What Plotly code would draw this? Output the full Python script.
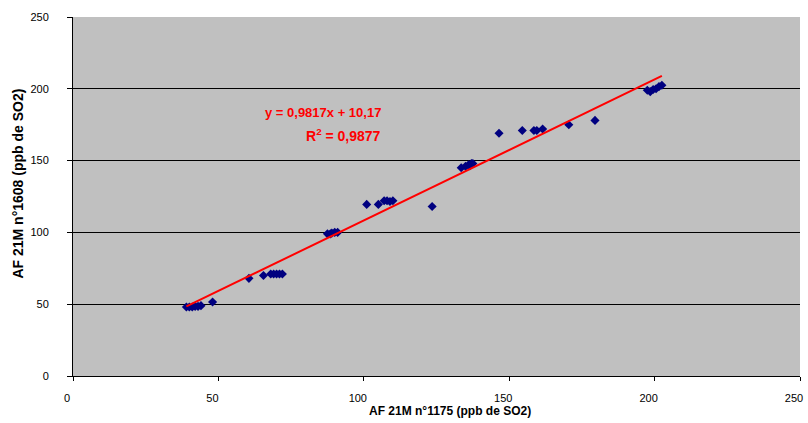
import plotly.graph_objects as go

x_vals = [39, 40, 41, 42, 43, 44, 48, 60.5, 65.5, 68, 69, 70, 71, 72,
          87.5, 88.5, 89, 90, 91, 101, 105, 107, 108, 109, 110, 123.5,
          133.5, 135, 136, 136.5, 137, 137.5, 146.5, 154.5, 158.5, 159.5,
          161.5, 170.5, 179.5, 197.5, 198.5, 199.5, 200.5, 201.5, 202.5]
y_vals = [48, 48, 48, 48.5, 48.5, 49, 51.5, 68, 70, 71, 71, 71, 71, 71,
          99, 99, 99.5, 100, 100, 119.5, 119.5, 122, 122, 121.5, 122, 118,
          145, 146, 147, 146.5, 148, 148, 169, 171, 171, 171,
          172, 175, 178, 199, 198, 199.5, 200, 201.5, 202.5]
slope = 0.9817
intercept = 10.17
tick_vals = [0, 50, 100, 150, 200, 250]
x_title = "AF 21M n°1175 (ppb de SO2)"
y_title = "AF 21M n°1608 (ppb de SO2)"
eq_text = "y = 0,9817x + 10,17"
r2_text = "R<sup>2</sup> = 0,9877"

x_line = [min(x_vals), max(x_vals)]
y_line = [slope * v + intercept for v in x_line]

FONT = "Arial, Liberation Sans"

fig = go.Figure()
fig.add_trace(go.Scatter(x=x_vals, y=y_vals, mode="markers",
                         marker=dict(symbol="diamond", size=7, color="#000080"),
                         showlegend=False))
fig.add_trace(go.Scatter(x=x_line, y=y_line, mode="lines",
                         line=dict(color="#FF0000", width=2), showlegend=False))

fig.add_annotation(x=106.5, y=183.5, xref="x", yref="y", text=eq_text,
                   showarrow=False, xanchor="right", yanchor="middle",
                   font=dict(family=FONT, size=13, color="#FF0000", weight="bold"))
fig.add_annotation(x=106.5, y=167.5, xref="x", yref="y", text=r2_text,
                   showarrow=False, xanchor="right", yanchor="middle",
                   font=dict(family=FONT, size=14, color="#FF0000", weight="bold"))

# axis titles placed as annotations for exact positioning
fig.add_annotation(x=0.519, y=0, xref="paper", yref="paper", text=x_title,
                   showarrow=False, xanchor="center", yanchor="middle", yshift=-35,
                   font=dict(family=FONT, size=12, color="#000000", weight="bold"))
fig.add_annotation(x=0, y=0.536, xref="paper", yref="paper", text=y_title,
                   showarrow=False, xanchor="center", yanchor="middle", xshift=-55,
                   textangle=-90,
                   font=dict(family=FONT, size=14, color="#000000", weight="bold"))

fig.update_layout(
    width=808, height=423,
    margin=dict(l=73, r=5, t=17, b=47),
    paper_bgcolor="white", plot_bgcolor="#C0C0C0",
    font=dict(family=FONT, size=11, color="#000000"),
)
fig.update_xaxes(range=[0, 250], tickvals=tick_vals, showgrid=False, zeroline=False,
                 showline=True, linecolor="#000000", linewidth=1,
                 ticks="outside", ticklen=4, tickcolor="#000000",
                 ticklabelshift=-6, ticklabelstandoff=8)
fig.update_yaxes(range=[0, 250], tickvals=tick_vals, showgrid=True, gridcolor="#000000",
                 gridwidth=1, zeroline=False,
                 showline=True, linecolor="#000000", linewidth=1,
                 ticks="outside", ticklen=5, tickcolor="#000000",
                 ticklabelstandoff=16)

fig.write_html("out.html")
